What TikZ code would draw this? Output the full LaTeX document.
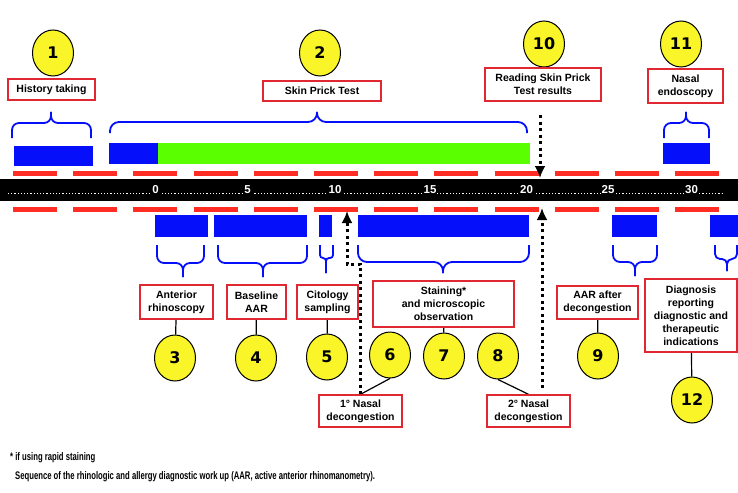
\documentclass[tikz,border=0pt]{standalone}
\usepackage{fontspec}
\setmainfont{Liberation Sans}
\newfontfamily\numfont{DejaVu Sans}
\newfontfamily\notefont{Liberation Sans}[FakeStretch=0.70]
\usetikzlibrary{shapes.geometric,arrows.meta}
\pgfdeclarelayer{bg}
\pgfsetlayers{bg,main}
\definecolor{boxred}{RGB}{225,40,50}
\definecolor{dashred}{RGB}{255,45,35}
\definecolor{barblue}{RGB}{5,15,250}
\definecolor{bargreen}{RGB}{90,255,0}
\definecolor{circyellow}{RGB}{250,245,40}
\tikzset{
    numcirc/.style={ellipse, draw=black, line width=1pt, fill=circyellow,
        minimum width=41pt, minimum height=46pt, inner sep=0pt,
        font=\numfont\bfseries\fontsize{16}{18}\selectfont},
    txtbox/.style={draw=boxred, line width=1.4pt, fill=white, align=center,
        inner sep=1pt, font=\bfseries\fontsize{10.5}{13}\selectfont},
    ticknum/.style={fill=black, text=white, inner sep=0.8pt,
        font=\bfseries\fontsize{11.5}{12}\selectfont},
    bracestyle/.style={draw=barblue, line width=1.8pt},
    linkline/.style={draw=black, line width=1.2pt},
    dotarrow/.style={draw=black, line width=3pt, dash pattern=on 3pt off 3.5pt,
        -{Latex[length=12pt,width=11pt]}},
    notetext/.style={inner sep=0pt, font=\notefont\bfseries\fontsize{11}{13}\selectfont}
}
% brace: [radius] x1, x2, xm, y of ends, y of bar, y of tip
\newcommand{\tbrace}[7][7pt]{%
    \draw[bracestyle, rounded corners=#1] (#2,#5) |- (#4,#6) -- (#4,#7);
    \draw[bracestyle, rounded corners=#1] (#3,#5) |- (#4,#6) -- (#4,#7);
}

\begin{document}
\begin{tikzpicture}[x=1pt, y=-1pt]
    \begin{pgfonlayer}{bg}
        \path[fill=white, use as bounding box] (0,0) rectangle (738,492);
    \end{pgfonlayer}

    % time line
    \fill[black] (0,179) rectangle (738,201);
    \draw[white, line width=1.2pt, dash pattern=on 1.2pt off 2pt] (8,193.5) -- (723,193.5);
    \foreach \k in {0,...,11}{
        \fill[dashred] ({13+60.2*\k},171) rectangle ++(44,5);
        \fill[dashred] ({13+60.2*\k},207) rectangle ++(44,5);
    }
    \node[ticknum] (t0) at (155.5,190) {0};
    \node[ticknum] (t5) at (247.5,190) {5};
    \node[ticknum] (t10) at (335,190) {10};
    \node[ticknum] (t15) at (430,190) {15};
    \node[ticknum] (t20) at (526.5,190) {20};
    \node[ticknum] (t25) at (608,190) {25};
    \node[ticknum] (t30) at (691.5,190) {30};

    % bars
    \fill[barblue] (14,146) rectangle (93,166);
    \fill[barblue] (109,143) rectangle (158,164);
    \fill[bargreen] (158,143) rectangle (530,164);
    \fill[barblue] (663,143) rectangle (710,164);
    \fill[barblue] (155,215) rectangle (208,237);
    \fill[barblue] (214,215) rectangle (307,237);
    \fill[barblue] (319,215) rectangle (332,237);
    \fill[barblue] (358,215) rectangle (529,237);
    \fill[barblue] (612,215) rectangle (657,237);
    \fill[barblue] (710,215) rectangle (738,237);

    % braces
    \tbrace{12}{91}{51}{138}{123}{112}
    \tbrace[9pt]{110}{527}{317}{133}{122}{112}
    \tbrace{664}{709}{686}{138}{123}{112}
    \tbrace{157}{204}{183}{245}{263}{277}
    \tbrace{218}{307}{263}{245}{263}{277}
    \tbrace[3pt]{320}{333}{326}{245}{258}{273}
    \tbrace[9pt]{358}{529}{443}{245}{262}{273}
    \tbrace{613}{657}{635}{245}{262}{276}
    \tbrace[5pt]{715}{737}{727}{245}{259}{271}

    % top steps
    \node[numcirc] (c1) at (53,53) {1};
    \node[numcirc] (c2) at (320,53) {2};
    \node[numcirc] (c10) at (544,44) {10};
    \node[numcirc] (c11) at (681,44) {11};
    \node[txtbox, minimum width=87pt, minimum height=21pt] (h1) at (51.5,89.5) {History taking};
    \node[txtbox, minimum width=118pt, minimum height=20pt] (h2) at (322,91) {Skin Prick Test};
    \node[txtbox, minimum width=116pt, minimum height=33pt] (h10) at (543,84.5) {Reading Skin Prick\\Test results};
    \node[txtbox, minimum width=75pt, minimum height=34pt] (h11) at (685.5,86) {Nasal\\endoscopy};

    % bottom steps
    \node[txtbox, minimum width=73pt, minimum height=34pt] (b3) at (176.5,302) {Anterior\\rhinoscopy};
    \node[txtbox, minimum width=59pt, minimum height=34pt] (b4) at (256.5,302) {Baseline\\AAR};
    \node[txtbox, minimum width=61pt, minimum height=34pt] (b5) at (327.5,302) {Citology\\sampling};
    \node[txtbox, minimum width=141pt, minimum height=46pt] (b7) at (443.5,304) {Staining*\\and microscopic\\observation};
    \node[txtbox, minimum width=81pt, minimum height=33pt] (b9) at (597.5,302.5) {AAR after\\decongestion};
    \node[txtbox, minimum width=92pt, minimum height=73pt] (b12) at (691,315.5) {Diagnosis\\reporting\\diagnostic and\\therapeutic\\indications};
    \node[txtbox, minimum width=83pt, minimum height=32pt] (n1) at (360.5,411) {1° Nasal\\decongestion};
    \node[txtbox, minimum width=83pt, minimum height=32pt] (n2) at (528.5,411) {2° Nasal\\decongestion};

    \node[numcirc] (c3) at (175,358) {3};
    \node[numcirc] (c4) at (256,358) {4};
    \node[numcirc] (c5) at (327,357) {5};
    \node[numcirc] (c6) at (390,355) {6};
    \node[numcirc] (c7) at (444,356) {7};
    \node[numcirc] (c8) at (498,356) {8};
    \node[numcirc] (c9) at (598,356) {9};
    \node[numcirc] (c12) at (692,400) {12};

    \coordinate (k1) at (347,264);
    \coordinate (a1) at (347,211);
    \coordinate (d2) at (542,388);
    \coordinate (a2) at (542,208);
    \coordinate (d10) at (540,115);
    \coordinate (a10) at (540,178);

    \begin{pgfonlayer}{bg}
        \draw[linkline] (b3) -- (c3);
        \draw[linkline] (b4) -- (c4);
        \draw[linkline] (b5) -- (c5);
        \draw[linkline] (b7) -- (c7);
        \draw[linkline] (b9) -- (c9);
        \draw[linkline] (b12) -- (c12);
        \draw[linkline] (c6.south) -- (n1.north);
        \draw[linkline] (c8.south) -- (n2.north);
    \end{pgfonlayer}

    \draw[dotarrow] (n1.north) |- (k1) -- (a1);
    \draw[dotarrow] (d2) -- (a2);
    \draw[dotarrow] (d10) -- (a10);

    % notes
    \node[notetext, anchor=base west] (fn) at (10,460) {* if using rapid staining};
    \node[notetext, anchor=base west] (cap) at (15,479) {Sequence of the rhinologic and allergy diagnostic work up (AAR, active anterior rhinomanometry).};
\end{tikzpicture}
\end{document}
